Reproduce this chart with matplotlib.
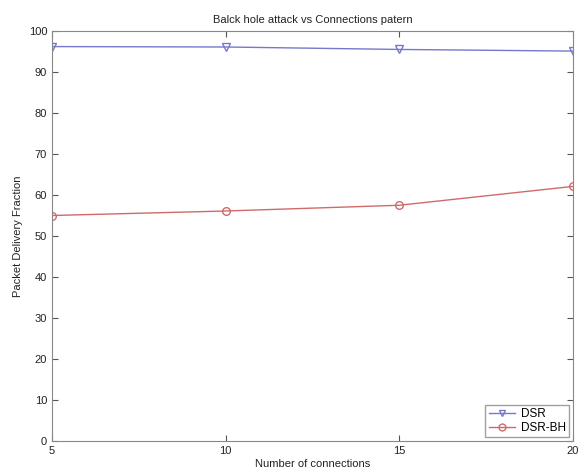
import matplotlib
matplotlib.use("Agg")
import matplotlib.pyplot as plt

plt.rcParams['font.family'] = ['Liberation Sans', 'DejaVu Sans']

connections = [5, 10, 15, 20]
dsr = [96.2, 96.1, 95.5, 95.1]
dsr_bh = [55.0, 56.1, 57.5, 62.1]
yticks = list(range(0, 101, 10))

fig = plt.figure(figsize=(5.79, 4.74), dpi=100)
ax = fig.add_axes([0.0898, 0.0696, 0.8998, 0.865])
ax.plot(connections, dsr, color='#7777cc', marker='v', markersize=5.5,
        markerfacecolor='none', markeredgecolor='#7777cc', linewidth=1, label='DSR')
ax.plot(connections, dsr_bh, color='#d06a6a', marker='o', markersize=5.5,
        markerfacecolor='none', markeredgecolor='#d06a6a', linewidth=1, label='DSR-BH')
ax.set_xlim(5, 20)
ax.set_ylim(0, 100)
ax.set_xticks(connections)
ax.set_yticks(yticks)
ax.tick_params(direction='in', length=4, colors='#555555', labelcolor='#222222', labelsize=8,
               top=True, right=True)
for s in ax.spines.values():
    s.set_color('#888888')
ax.set_title('Balck hole attack vs Connections patern', fontsize=8, color='#222222')
ax.set_xlabel('Number of connections', fontsize=8, color='#222222', labelpad=2)
ax.set_ylabel('Packet Delivery Fraction', fontsize=8, color='#222222')
leg = ax.legend(loc='lower right', fontsize=8.5, frameon=True, fancybox=False,
                edgecolor='#888888', borderpad=0.3, handlelength=2.2, markerscale=0.9,
                labelspacing=0.15, handletextpad=0.5, borderaxespad=0.3)
fig.savefig('out.png', dpi=100)
